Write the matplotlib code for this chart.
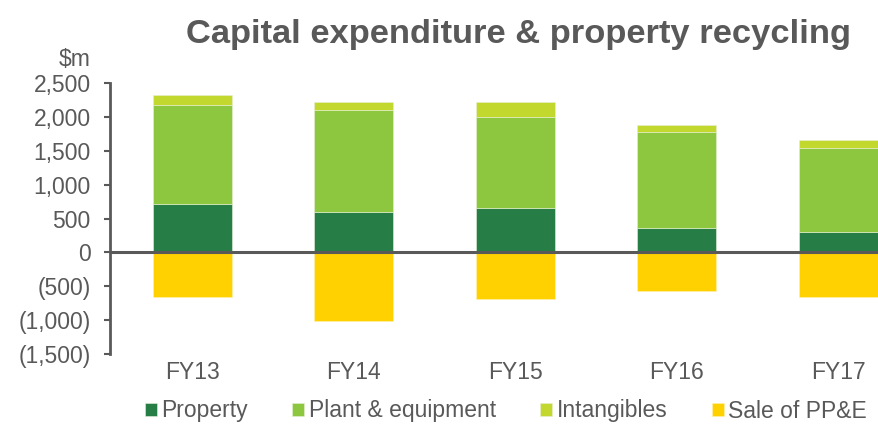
import matplotlib
matplotlib.use("Agg")
import matplotlib.pyplot as plt
import numpy as np

categories = ["FY13", "FY14", "FY15", "FY16", "FY17"]
property_vals = [723, 594, 658, 363, 299]
plant_vals = [1460, 1505, 1338, 1416, 1244]
intangibles_vals = [137, 118, 231, 109, 124]
sale_vals = [-659, -1013, -689, -566, -655]
yticks = [-1500, -1000, -500, 0, 500, 1000, 1500, 2000, 2500]
ytick_labels = ["(1,500)", "(1,000)", "(500)", "0", "500", "1,000", "1,500", "2,000", "2,500"]

plt.rcParams['font.family'] = ['Liberation Sans', 'DejaVu Sans']
grey = "#595959"
c_prop = "#267D46"
c_plant = "#8DC63F"
c_int = "#C2D82E"
c_sale = "#FFD100"

W, H = 879, 425
fig = plt.figure(figsize=(W/100, H/100), dpi=100)
left_px, right_px, top_px, bot_px = 110, 879, 83.3, 354
ax = fig.add_axes([left_px/W, 1 - bot_px/H, (right_px-left_px)/W, (bot_px-top_px)/H])

x = np.arange(len(categories))
w = 0.49
ec = "#e8f0d8"
b1 = ax.bar(x, property_vals, w, color=c_prop, edgecolor=ec, linewidth=0.4, label="Property")
b2 = ax.bar(x, plant_vals, w, bottom=property_vals, color=c_plant, edgecolor=ec, linewidth=0.4, label="Plant & equipment")
bot3 = np.array(property_vals) + np.array(plant_vals)
b3 = ax.bar(x, intangibles_vals, w, bottom=bot3, color=c_int, edgecolor=ec, linewidth=0.4, label="Intangibles")
b4 = ax.bar(x, sale_vals, w, color=c_sale, edgecolor="#fff3b0", linewidth=0.4, label="Sale of PP&E")

spacing = 161.5
x0 = -0.51
ax.set_xlim(x0, (right_px - left_px)/spacing + x0)
ax.set_ylim(-1500, 2500)
ax.set_yticks(yticks)
ax.set_yticklabels(ytick_labels)
ax.set_xticks(x)
ax.set_xticklabels(categories)

for s in ["top", "right", "bottom"]:
    ax.spines[s].set_visible(False)
ax.spines["left"].set_color(grey)
ax.spines["left"].set_linewidth(2)
ax.axhline(0, color=grey, linewidth=2.2, zorder=5)

fs = 16.5
ax.tick_params(axis="y", colors=grey, labelcolor=grey, labelsize=fs, length=4, width=1.5, direction="out", pad=10)
ax.tick_params(axis="x", length=0, labelcolor=grey, labelsize=fs, pad=5)

fig.text(91/W, 1 - 60/H, "$m", ha="right", va="center", color=grey, fontsize=fs)
fig.text(519/W, 1 - 34/H, "Capital expenditure & property recycling", ha="center", va="center",
         color=grey, fontsize=24.8, fontweight="bold")

leg = fig.legend(handles=[b1, b2, b3, b4], loc="center", bbox_to_anchor=(506/W, 1 - 411/H),
                 ncol=4, frameon=False, fontsize=fs, handlelength=0.52, handleheight=0.52,
                 handletextpad=0.2, columnspacing=1.93, borderaxespad=0, borderpad=0)
for t in leg.get_texts():
    t.set_color(grey)

fig.savefig("out.png", dpi=100)
